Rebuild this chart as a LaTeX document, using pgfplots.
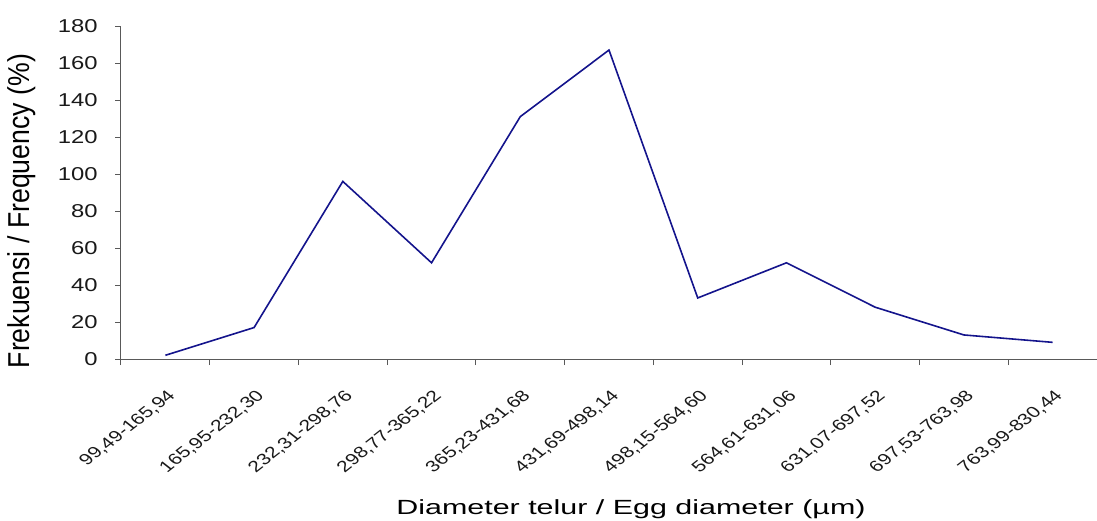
\documentclass[border=0pt]{standalone}
\usepackage{pgfplots}
\pgfplotsset{compat=1.18}
\usepackage{fontspec}
\setmainfont{Liberation Sans}
\newfontfamily\labfont{Liberation Sans}[FakeStretch=1.13]
\newfontfamily\xlabfont{Liberation Sans}[FakeStretch=1.16]
\newfontfamily\tickfont{Liberation Sans}[FakeStretch=1.08]
\definecolor{navy}{RGB}{20,20,140}
\begin{document}
\begin{tikzpicture}
\begin{axis}[
  name=ax,
  scale only axis,
  width=976bp, height=333bp,
  xmin=-0.5, xmax=10.5,
  ymin=0, ymax=180,
  ytick={0,20,...,180},
  xtick={0,...,10},
  xticklabels={{99,49-165,94}, {165,95-232,30}, {232,31-298,76}, {298,77-365,22}, {365,23-431,68}, {431,69-498,14}, {498,15-564,60}, {564,61-631,06}, {631,07-697,52}, {697,53-763,98}, {763,99-830,44}},
  minor xtick={-0.5,0.5,...,10.5},
  axis x line*=bottom,
  axis y line*=left,
  axis line style={black!65, line width=1pt, -},
  major tick length=6bp,
  minor tick length=6bp,
  tick style={black!65, line width=1pt},
  major x tick style={draw=none},
  tick align=outside,
  /pgf/number format/assume math mode=true,
  yticklabel style={font=\fontsize{18.6bp}{20bp}\selectfont, text=black!90, anchor=east, cm={1.28,0,0,1,(0,0)}, xshift=-10bp},
  xticklabel style={font=\tickfont\fontsize{15.5bp}{17bp}\selectfont, text=black!90, cm={1.28,0,0,1,(0,0)}, rotate=45, anchor=east, xshift=-13bp, yshift=-24bp},
  ylabel={Frekuensi / Frequency (\%)},
  ylabel style={font=\labfont\fontsize{23.6bp}{25bp}\selectfont, at={(axis description cs:-0.1014,0.444)}, anchor=center, rotate=-90, cm={1.28,0,0,1,(0,0)}, rotate=90},
  xlabel={Diameter telur / Egg diameter (µm)},
  xlabel style={font=\xlabfont\fontsize{20.5bp}{22bp}\selectfont, at={(axis description cs:0.5225,-0.4655)}, anchor=base, cm={1.28,0,0,1,(0,0)}},
]
\addplot[navy, line width=1.6bp] coordinates {
(0,2) (1,17) (2,96) (3,52) (4,131) (5,167) (6,33) (7,52) (8,28) (9,13) (10,9)
};
\end{axis}
\pgfresetboundingbox
\path[use as bounding box] ([xshift=-121bp,yshift=-162bp]ax.south west) rectangle ([yshift=26bp]ax.north east);
\end{tikzpicture}
\end{document}
